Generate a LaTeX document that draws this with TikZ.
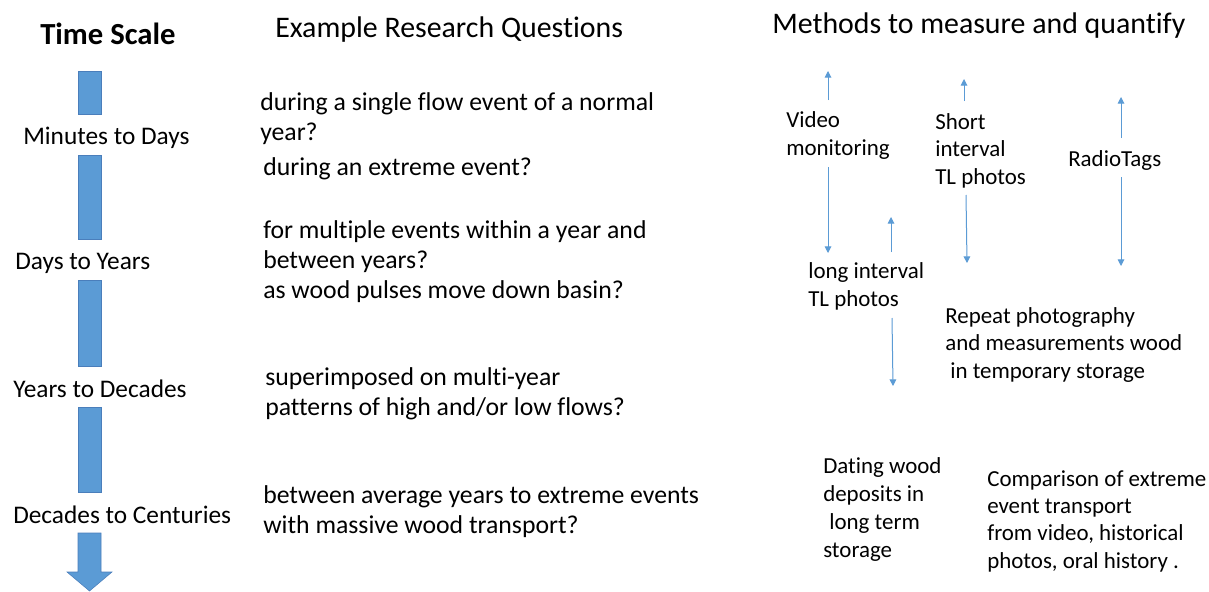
\documentclass[tikz,border=0pt]{standalone}
\usepackage{fontspec}
\setmainfont{Carlito}[Ligatures=NoCommon]
\usetikzlibrary{arrows.meta}
\definecolor{barblue}{HTML}{5B9BD5}
\definecolor{baredge}{HTML}{4A7EBB}
\begin{document}
\begin{tikzpicture}[x=0.75pt,y=-0.75pt,
  heading/.style={anchor=base west,inner sep=0,font=\fontsize{22.4pt}{26pt}\selectfont},
  scalelabel/.style={anchor=base west,inner sep=0,font=\fontsize{19pt}{22pt}\selectfont},
  question/.style={anchor=base west,inner sep=0,align=left,font=\fontsize{19.3pt}{22.5pt}\selectfont},
  method/.style={anchor=base west,inner sep=0,align=left,font=\fontsize{17.2pt}{20.5pt}\selectfont},
  bar/.style={fill=barblue,draw=baredge,line width=0.4pt},
  link/.style={draw=barblue,line width=0.75pt,-{Triangle[width=5pt,length=5pt]}}]
\useasboundingbox [fill=white] (0,0) rectangle (1209,592);

% headings
\node (timescale) at (40,45) [heading,font=\fontsize{23pt}{26pt}\selectfont\bfseries] {Time Scale};
\node (questions) at (275,38) [heading] {Example Research Questions};
\node (methods) at (772,34) [heading] {Methods to measure and quantify};

% time scale
\fill [bar] (78,71) rectangle (101,114);
\node (minutes) at (23,144) [scalelabel] {Minutes to Days};
\fill [bar] (78,155) rectangle (101,239);
\node (days) at (15,269) [scalelabel] {Days to Years};
\fill [bar] (78,280) rectangle (101,366);
\node (years) at (13,397) [scalelabel] {Years to Decades};
\fill [bar] (78,407) rectangle (101,492);
\node (decades) at (13,523) [scalelabel] {Decades to Centuries};
\filldraw [bar] (78,533) -- (101,533) -- (101,572) -- (112,572) -- (89.5,591)
  -- (67,572) -- (78,572) -- cycle;

% research questions (placed at the baseline of the last line)
\node (single) at (260,140) [question] {during a single flow event of a normal\\year?};
\node (extreme) at (263,175) [question] {during an extreme event?};
\node (multiple) at (263,298) [question] {for multiple events within a year and\\between years?\\as wood pulses move down basin?};
\node (superimposed) at (265,415) [question] {superimposed on multi-year\\patterns of high and/or low flows?};
\node (average) at (263,533) [question] {between average years to extreme events\\with massive wood transport?};

% methods
\node (video) at (786,155) [method] {Video\\monitoring};
\node (short) at (935,184) [method] {Short\\interval\\TL photos};
\node (radio) at (1068,166) [method] {RadioTags};
\node (long) at (808,306) [method] {long interval\\TL photos};
\node (repeat) at (945,378) [method] {Repeat photography\\and measurements wood\\\hspace*{3.75pt}in temporary storage};
\node (dating) at (823,557) [method,font=\fontsize{17.2pt}{21pt}\selectfont] {Dating wood\\deposits in\\\hspace*{4.5pt}long term\\storage};
\node (comparison) at (987,568) [method] {Comparison of extreme\\event transport\\from video, historical\\photos, oral history .};

% range arrows
\coordinate (video up) at (828,100);
\coordinate (video top) at (828,71);
\coordinate (video down) at (828,167);
\coordinate (video bottom) at (828,253);
\coordinate (short up) at (964,101);
\coordinate (short top) at (964,79);
\coordinate (short down) at (966,195);
\coordinate (short bottom) at (967,263);
\coordinate (radio up) at (1121,138);
\coordinate (radio top) at (1121,97);
\coordinate (radio down) at (1121,177);
\coordinate (radio bottom) at (1121,266);
\coordinate (long up) at (891,252);
\coordinate (long top) at (891,217);
\coordinate (long down) at (892,318);
\coordinate (long bottom) at (893,386);
\draw [link] (video up) -- (video top);
\draw [link] (video down) -- (video bottom);
\draw [link] (short up) -- (short top);
\draw [link] (short down) -- (short bottom);
\draw [link] (radio up) -- (radio top);
\draw [link] (radio down) -- (radio bottom);
\draw [link] (long up) -- (long top);
\draw [link] (long down) -- (long bottom);
\end{tikzpicture}
\end{document}
